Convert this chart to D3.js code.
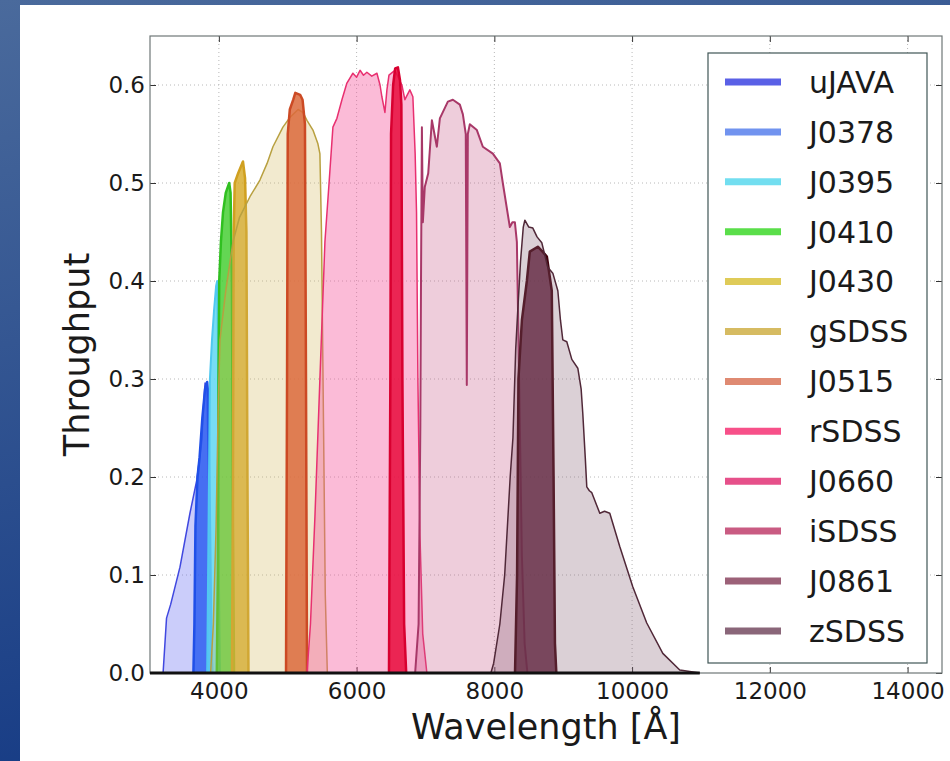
<!DOCTYPE html>
<html>
<head>
<meta charset="utf-8">
<script src="https://cdn.jsdelivr.net/npm/d3@7"></script>
<style>
  html, body { margin: 0; padding: 0; }
  svg { display: block; }
  text { font-family: "DejaVu Sans", sans-serif; }
</style>
</head>
<body>
<div id="chart"></div>
<script>
// Filter names in legend order
const filterNames = ['uJAVA', 'J0378', 'J0395', 'J0410', 'J0430', 'gSDSS',
                     'J0515', 'rSDSS', 'J0660', 'iSDSS', 'J0861', 'zSDSS'];

// Throughput curves: [wavelength (Å), throughput]
const uJAVA = [[3170, 0], [3190, 0.0], [3240, 0.056], [3300, 0.07], [3435, 0.108], [3580, 0.163],
               [3680, 0.197], [3710, 0.214], [3755, 0.238], [3770, 0.265], [3800, 0.296],
               [3825, 0.29], [3850, 0.2], [3875, 0.06], [3900, 0]];
const J0378 = [[3630, 0], [3645, 0.05], [3660, 0.15], [3690, 0.2], [3720, 0.22], [3760, 0.26],
               [3800, 0.29], [3830, 0.297], [3850, 0.28], [3870, 0.15], [3890, 0.03], [3905, 0]];
const J0395 = [[3830, 0], [3850, 0.15], [3870, 0.3], [3900, 0.34], [3930, 0.37], [3960, 0.395],
               [3975, 0.40], [3985, 0.35], [4000, 0.1], [4015, 0]];
const J0410 = [[3970, 0], [3985, 0.1], [3995, 0.3], [4005, 0.4], [4030, 0.44], [4060, 0.47],
               [4100, 0.49], [4150, 0.5], [4170, 0.49], [4190, 0.4], [4205, 0.15], [4220, 0]];
const J0430 = [[4190, 0], [4205, 0.2], [4215, 0.45], [4230, 0.5], [4280, 0.51], [4350, 0.522],
               [4380, 0.505], [4400, 0.45], [4415, 0.2], [4430, 0]];
const gSDSS = [[3880, 0], [3920, 0.05], [3960, 0.15], [3990, 0.27], [4016, 0.34], [4100, 0.39],
               [4205, 0.44], [4300, 0.465], [4451, 0.486], [4596, 0.503], [4700, 0.52],
               [4785, 0.537], [4930, 0.557], [5032, 0.567], [5150, 0.575], [5220, 0.572],
               [5279, 0.564], [5366, 0.554], [5438, 0.54], [5467, 0.53], [5490, 0.45],
               [5520, 0.25], [5545, 0.08], [5575, 0]];
const J0515 = [[4975, 0], [4990, 0.3], [5000, 0.55], [5030, 0.575], [5080, 0.585], [5110, 0.592],
               [5180, 0.59], [5215, 0.585], [5250, 0.56], [5265, 0.3], [5280, 0]];
const rSDSS = [[5280, 0], [5330, 0.05], [5395, 0.16], [5467, 0.3], [5540, 0.44], [5600, 0.5],
               [5656, 0.557], [5714, 0.566], [5787, 0.585], [5859, 0.602], [5946, 0.612],
               [6000, 0.608], [6050, 0.615], [6100, 0.61], [6149, 0.613], [6220, 0.609],
               [6295, 0.612], [6340, 0.6], [6367, 0.588], [6411, 0.572], [6440, 0.595],
               [6470, 0.61], [6556, 0.615], [6657, 0.6], [6701, 0.585], [6773, 0.595],
               [6817, 0.588], [6850, 0.53], [6870, 0.47], [6890, 0.3], [6920, 0.14],
               [6960, 0.04], [7020, 0]];
const J0660 = [[6470, 0], [6490, 0.3], [6500, 0.55], [6530, 0.6], [6560, 0.617], [6600, 0.618],
               [6630, 0.605], [6650, 0.58], [6665, 0.3], [6690, 0.05], [6720, 0]];
const iSDSS = [[6850, 0], [6900, 0.05], [6925, 0.25], [6935, 0.4], [6948, 0.557], [6962, 0.46],
               [6990, 0.496], [7040, 0.51], [7093, 0.564], [7165, 0.537], [7209, 0.566],
               [7325, 0.583], [7398, 0.585], [7499, 0.58], [7543, 0.57], [7585, 0.55],
               [7600, 0.294], [7615, 0.55], [7644, 0.56], [7746, 0.554], [7833, 0.537],
               [7978, 0.53], [8080, 0.52], [8123, 0.5], [8225, 0.455], [8262, 0.46],
               [8298, 0.46], [8327, 0.44], [8360, 0.3], [8400, 0.12], [8440, 0.03], [8480, 0]];
const J0861 = [[8300, 0], [8330, 0.1], [8350, 0.3], [8400, 0.36], [8472, 0.4], [8515, 0.43],
               [8631, 0.435], [8700, 0.43], [8762, 0.425], [8834, 0.39], [8860, 0.2],
               [8880, 0.03], [8900, 0]];
const zSDSS = [[7950, 0], [7990, 0.01], [8080, 0.05], [8150, 0.1], [8230, 0.2], [8270, 0.24],
               [8310, 0.33], [8340, 0.37], [8380, 0.42], [8420, 0.455], [8443, 0.462],
               [8500, 0.455], [8559, 0.454], [8620, 0.445], [8689, 0.439], [8776, 0.414],
               [8849, 0.408], [8922, 0.39], [8960, 0.36], [8994, 0.34], [9052, 0.338],
               [9125, 0.32], [9212, 0.311], [9260, 0.29], [9284, 0.265], [9320, 0.22],
               [9342, 0.19], [9380, 0.186], [9415, 0.184], [9531, 0.163], [9600, 0.165],
               [9676, 0.163], [9821, 0.129], [10010, 0.088], [10213, 0.051], [10446, 0.02],
               [10692, 0.003], [10983, 0]];

const curves = [uJAVA, J0378, J0395, J0410, J0430, gSDSS, J0515, rSDSS, J0660, iSDSS, J0861, zSDSS];

const xTicks = [4000, 6000, 8000, 10000, 12000, 14000];
const yTicks = [0.0, 0.1, 0.2, 0.3, 0.4, 0.5, 0.6];

// Styles
const legendColors = ['#5a60e6', '#7193ef', '#72def0', '#5ade4a', '#dfcb58', '#d6bb62',
                      '#df8a72', '#f75089', '#e6508a', '#c95b82', '#9c6178', '#8a6679'];
const fillColors   = ['#6a70f0', '#2f5ef0', '#5fd6f2', '#3ccc28', '#d6a820', '#d4b860',
                      '#dc6a3c', '#f5559a', '#e80a3c', '#c85a88', '#5a1a34', '#886478'];
const fillOpacity  = [0.35, 0.85, 0.85, 0.8, 0.8, 0.3, 0.85, 0.4, 0.85, 0.3, 0.85, 0.3];
const lineColors   = ['#4048e0', '#2050e8', '#50c8f0', '#30c020', '#d0a020', '#b8a040',
                      '#cc4a24', '#e83070', '#d80030', '#a83868', '#40000c', '#502838'];
const lineWidths   = [1.5, 2.5, 2, 2.5, 2.5, 1.5, 2.5, 1.5, 2.5, 2, 2.5, 1.5];

function init() {
    const W = 950, H = 761;
    const left = 150, right = 942, top = 36, bottom = 673;

    const svg = d3.select('#chart').append('svg')
        .attr('width', W)
        .attr('height', H);

    // blue slide background with white panel
    const grad = svg.append('defs').append('linearGradient')
        .attr('id', 'bg').attr('x1', 0).attr('y1', 0).attr('x2', 0.3).attr('y2', 1);
    grad.append('stop').attr('offset', '0%').attr('stop-color', '#4a6a9c');
    grad.append('stop').attr('offset', '100%').attr('stop-color', '#153a84');
    svg.append('rect').attr('width', W).attr('height', H).attr('fill', 'url(#bg)');
    svg.append('rect').attr('x', 20).attr('y', 5).attr('width', W - 20).attr('height', H - 5)
        .attr('fill', '#fff');

    const x = d3.scaleLinear().domain([3000, 14500]).range([left, right]);
    const y = d3.scaleLinear().domain([0, 0.65]).range([bottom, top]);

    // dotted grid
    const grid = svg.append('g').attr('stroke', '#b8b8b8').attr('stroke-dasharray', '1,3');
    grid.selectAll('.gx').data(xTicks).join('line')
        .attr('x1', d => x(d)).attr('x2', d => x(d)).attr('y1', top).attr('y2', bottom);
    grid.selectAll('.gy').data(yTicks.slice(1)).join('line')
        .attr('y1', d => y(d)).attr('y2', d => y(d)).attr('x1', left).attr('x2', right);

    const area = d3.area().x(d => x(d[0])).y0(y(0)).y1(d => y(d[1]));
    const line = d3.line().x(d => x(d[0])).y(d => y(d[1]));

    // axes (inward ticks, matplotlib style)
    svg.append('g')
        .attr('transform', `translate(0, ${bottom})`)
        .call(d3.axisBottom(x).tickValues(xTicks).tickFormat(d3.format('d'))
            .tickSizeInner(-6).tickSizeOuter(0).tickPadding(10));
    svg.append('g')
        .attr('transform', `translate(${left}, 0)`)
        .call(d3.axisLeft(y).tickValues(yTicks).tickFormat(d3.format('.1f'))
            .tickSizeInner(-6).tickSizeOuter(0).tickPadding(5));
    svg.append('g')
        .attr('transform', `translate(0, ${top})`)
        .call(d3.axisTop(x).tickValues(xTicks).tickSizeInner(-6).tickSizeOuter(0).tickFormat(''));
    svg.append('g')
        .attr('transform', `translate(${right}, 0)`)
        .call(d3.axisRight(y).tickValues(yTicks).tickSizeInner(-6).tickSizeOuter(0).tickFormat(''));

    svg.selectAll('.domain').remove();
    svg.selectAll('.tick line').attr('stroke', '#333');
    svg.selectAll('.tick text').style('font-size', '23px').attr('fill', '#1a1a1a');

    // frame
    svg.append('rect')
        .attr('x', left).attr('y', top)
        .attr('width', right - left).attr('height', bottom - top)
        .attr('fill', 'none').attr('stroke', '#6f7777').attr('stroke-width', 1.2);

    // filter curves
    const plot = svg.append('g');
    curves.forEach((c, i) => {
        plot.append('path')
            .attr('d', area(c))
            .attr('fill', fillColors[i])
            .attr('fill-opacity', fillOpacity[i]);
        plot.append('path')
            .attr('d', line(c))
            .attr('fill', 'none')
            .attr('stroke', lineColors[i])
            .attr('stroke-width', lineWidths[i])
            .attr('stroke-linejoin', 'round');
    });

    // zero baseline where the curves lie
    const lastZ = zSDSS[zSDSS.length - 1][0];
    plot.append('path')
        .attr('d', line([[3000, 0], [lastZ, 0]]))
        .attr('stroke', '#111')
        .attr('stroke-width', 3);

    // axis labels
    svg.append('text')
        .attr('x', (left + right) / 2).attr('y', 739)
        .attr('text-anchor', 'middle')
        .style('font-size', '35px').attr('fill', '#1a1a1a')
        .text('Wavelength [Å]');
    svg.append('text')
        .attr('transform', `translate(89, ${(top + bottom) / 2}) rotate(-90)`)
        .attr('text-anchor', 'middle')
        .style('font-size', '35px').attr('fill', '#1a1a1a')
        .text('Throughput');

    // legend
    const lg = svg.append('g');
    lg.append('rect')
        .attr('x', 708).attr('y', 53).attr('width', 219).attr('height', 610)
        .attr('fill', '#fff').attr('stroke', '#405555').attr('stroke-width', 1.2);
    const rows = lg.selectAll('.row').data(filterNames).join('g')
        .attr('transform', (d, i) => `translate(0, ${82 + i * 49.9})`);
    rows.append('line')
        .attr('x1', 725).attr('x2', 781)
        .attr('stroke', (d, i) => legendColors[i])
        .attr('stroke-width', 7);
    rows.append('text')
        .attr('x', 809).attr('dy', '0.36em')
        .style('font-size', '30px').attr('fill', '#1a1a1a')
        .text(d => d);
}

window.onload = init;
</script>
</body>
</html>
